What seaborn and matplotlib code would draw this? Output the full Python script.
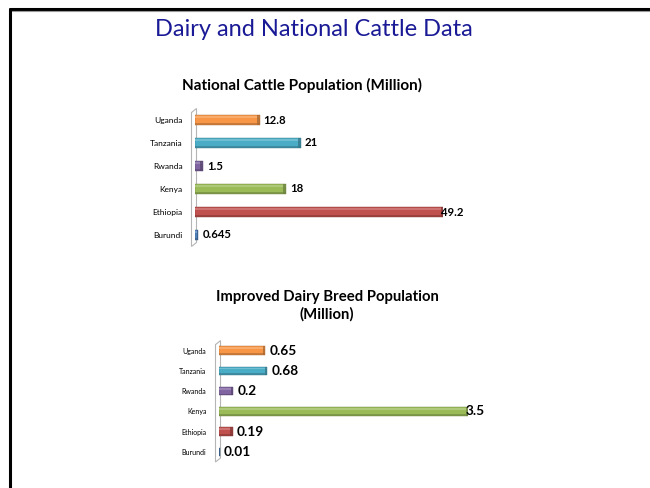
import matplotlib
matplotlib.use("Agg")
import matplotlib.pyplot as plt
import matplotlib.colors as mcolors
from matplotlib.patches import Polygon, Rectangle
from matplotlib.lines import Line2D
import seaborn as sns
import pandas as pd

# data
countries = ["Burundi", "Ethiopia", "Kenya", "Rwanda", "Tanzania", "Uganda"]
cattle_million = [0.645, 49.2, 18, 1.5, 21, 12.8]
dairy_million = [0.01, 0.19, 3.5, 0.2, 0.68, 0.65]
cattle_labels = ["0.645", "49.2", "18", "1.5", "21", "12.8"]
dairy_labels = ["0.01", "0.19", "3.5", "0.2", "0.68", "0.65"]

# office 2007 palette, one colour per country
bar_colors = ["#4F81BD", "#C0504D", "#9BBB59", "#8064A2", "#4BACC6", "#F79646"]

sns.set_theme(style="white")
plt.rcParams["font.family"] = ["Lato", "DejaVu Sans"]
plt.rcParams["text.color"] = "black"
plt.rcParams["ytick.color"] = "black"
plt.rcParams["ytick.labelcolor"] = "black"

W, H = 650, 488
fig = plt.figure(figsize=(6.5, 4.88), dpi=100)


def fx(px):
    return px / W


def fy(py):
    return 1 - py / H


# slide frame (top + left edge)
fig.add_artist(Line2D([fx(9.5), 1], [fy(8.5), fy(8.5)], color="black", lw=2.2))
fig.add_artist(Line2D([fx(11), 1], [fy(10.5), fy(10.5)], color="#999999", lw=0.8))
fig.add_artist(Line2D([fx(9.5), fx(9.5)], [fy(8.5), 0], color="black", lw=2.2))

fig.text(fx(314), fy(30), "Dairy and National Cattle Data", ha="center", va="center",
         fontsize=17, color="#1a1a96")


def bar_chart(ax, values, labels, tick_size, label_size):
    df = pd.DataFrame({"country": countries, "value": values})
    order = countries[::-1]
    sns.barplot(data=df, x="value", y="country", hue="country", order=order,
                hue_order=countries, palette=bar_colors, legend=False, saturation=1,
                width=0.42, orient="h", ax=ax, zorder=3)
    ax.set_xlim(0, max(values))
    ax.set_ylim(len(countries) - 0.5, -0.5)
    ax.set_xlabel("")
    ax.set_ylabel("")
    ax.set_xticks([])
    ax.tick_params(axis="y", length=0, pad=9, labelsize=tick_size, labelcolor="black")
    sns.despine(ax=ax, left=True, bottom=True)
    ax.set_facecolor("none")

    # fake cylinder shading
    px_to_data = max(values) / (ax.get_position().width * W)
    for p in list(ax.patches):
        c = mcolors.to_rgb(p.get_facecolor())
        dark = tuple(v * 0.7 for v in c)
        light = tuple(v + (1 - v) * 0.2 for v in c)
        p.set_edgecolor(dark)
        p.set_linewidth(0.3)
        x, y = p.get_x(), p.get_y()
        w, h = p.get_width(), p.get_height()
        ax.add_patch(Rectangle((x, y + h * 0.12), w, h * 0.2, facecolor=light,
                               edgecolor="none", zorder=4))
        ax.add_patch(Rectangle((x, y + h * 0.8), w, h * 0.2, facecolor=dark,
                               edgecolor="none", alpha=0.6, zorder=4))
        cap = min(2.5 * px_to_data, w * 0.5)
        ax.add_patch(Rectangle((x + w - cap, y), cap, h, facecolor=dark,
                               edgecolor="none", alpha=0.8, zorder=4))

    vmax = max(values)
    for i, name in enumerate(order):
        k = countries.index(name)
        v = values[k]
        off = -1.5 if v == vmax else 3
        ax.annotate(labels[k], (v, i), xytext=(off, 0), textcoords="offset points",
                    ha="left", va="center", fontsize=label_size, fontweight="bold",
                    color="black", annotation_clip=False, zorder=5)

    # thin back wall of the 3d plot area
    pos = ax.get_position()
    dx = 1 / W
    dy = 1 / H
    wall = Polygon([(pos.x0 - 3.5 * dx, pos.y1 - 4 * dy), (pos.x0 + 1.5 * dx, pos.y1),
                    (pos.x0 + 1.5 * dx, pos.y0 + 4 * dy), (pos.x0 - 3.5 * dx, pos.y0)],
                   closed=True, transform=fig.transFigure, facecolor="white",
                   edgecolor="#b5b5b5", lw=0.8, clip_on=False, zorder=1)
    ax.add_patch(wall)


# top chart
ax1 = fig.add_axes([fx(195), fy(246.5), fx(443) - fx(195), fy(108.5) - fy(246.5)])
bar_chart(ax1, cattle_million, cattle_labels, 6, 8.2)
fig.text(fx(302), fy(85), "National Cattle Population (Million)", ha="center",
         va="center", fontsize=11, fontweight="bold")

# bottom chart
ax2 = fig.add_axes([fx(219), fy(462), fx(468) - fx(219), fy(340.6) - fy(462)])
bar_chart(ax2, dairy_million, dairy_labels, 5.0, 9.8)
fig.text(fx(327), fy(306), "Improved Dairy Breed Population\n(Million)", ha="center",
         va="center", fontsize=10.7, fontweight="bold", linespacing=1.25)

fig.savefig("out.png", dpi=100)
